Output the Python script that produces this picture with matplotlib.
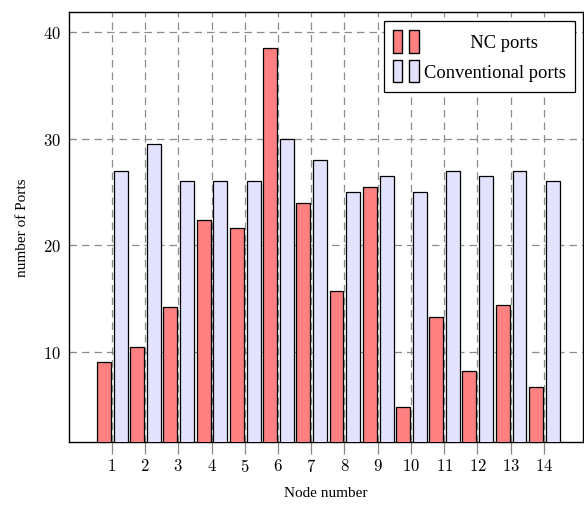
import numpy as np
import matplotlib.pyplot as plt
from matplotlib.patches import Patch
from matplotlib.legend_handler import HandlerTuple

plt.rcParams['font.family'] = ['Liberation Serif', 'DejaVu Serif']
plt.rcParams['mathtext.fontset'] = 'cm'

nodes = list(range(1, 15))
nc_ports = [9.1, 10.5, 14.2, 22.4, 21.6, 38.5, 24.0, 15.7, 25.5, 4.9, 13.3, 8.25, 14.4, 6.7]
conv_ports = [27, 29.5, 26, 26, 26, 30, 28, 25, 26.5, 25, 27, 26.5, 27, 26]

nc_color = '#ff8080'
conv_color = '#e3e3ff'

fig = plt.figure(figsize=(5.84, 5.10), dpi=100)
ax = fig.add_axes([0.118, 0.131, 0.880, 0.844])

x = np.array(nodes)
w = 0.42
ax.bar(x - 0.24, nc_ports, width=w, color=nc_color, edgecolor='black', linewidth=0.9, zorder=3)
ax.bar(x + 0.265, conv_ports, width=w, color=conv_color, edgecolor='black', linewidth=0.9, zorder=3)

ax.set_xlim(-0.29, 15.17)
ax.set_ylim(1.57, 41.87)
ax.set_xticks(nodes)
ax.set_xticklabels([f'${n}$' for n in nodes], fontsize=12)
ax.set_yticks([10, 20, 30, 40])
ax.set_yticklabels([f'${v}$' for v in [10, 20, 30, 40]], fontsize=12)
ax.tick_params(axis='x', direction='out', length=8.5, color='#888888', width=0.9, pad=3)
ax.tick_params(axis='y', direction='in', length=4, color='#888888', pad=6)

ax.grid(True, linestyle=(0, (6, 4)), color='#8c8c8c', linewidth=0.9)
ax.set_axisbelow(True)
for s in ax.spines.values():
    s.set_linewidth(1.0)

ax.set_xlabel('Node number', fontsize=11, labelpad=8)
ax.set_ylabel('number of Ports', fontsize=11, labelpad=10)

h1 = (Patch(facecolor=nc_color, edgecolor='black'), Patch(facecolor=nc_color, edgecolor='black'))
h2 = (Patch(facecolor=conv_color, edgecolor='black'), Patch(facecolor=conv_color, edgecolor='black'))
leg = ax.legend([h1, h2], ['          NC ports', 'Conventional ports'],
                handler_map={tuple: HandlerTuple(ndivide=None, pad=0.38)},
                loc='upper right', bbox_to_anchor=(0.9845, 0.979), borderaxespad=0,
                fontsize=13.3, fancybox=False, framealpha=1, edgecolor='black',
                handlelength=1.4, handleheight=1.5, handletextpad=0.27, borderpad=0.5,
                labelspacing=0.4)
leg.get_frame().set_linewidth(0.9)

fig.savefig('out.png', dpi=100)
